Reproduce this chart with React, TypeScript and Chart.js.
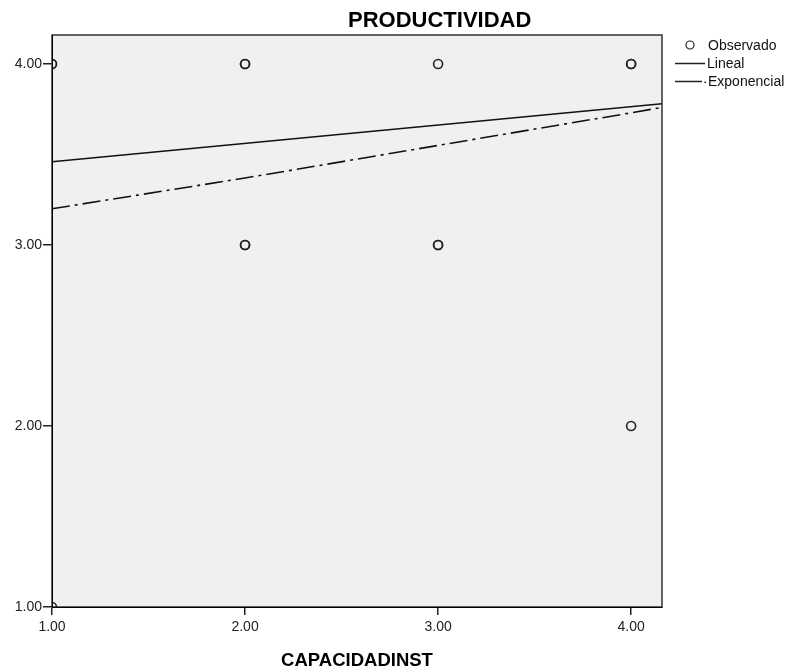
import React, { useEffect, useRef } from "react";
import { Chart, registerables } from "chart.js";

Chart.register(...registerables);

const chartTitle = "PRODUCTIVIDAD";
const xTitle = "CAPACIDADINST";
const xTicks = [1, 2, 3, 4];
const yTicks = [1, 2, 3, 4];
const xTickLabels = ["1.00", "2.00", "3.00", "4.00"];
const yTickLabels = ["1.00", "2.00", "3.00", "4.00"];
const axisMin = 1;
const axisMax = 4.16;

// Observed points (repeated entries = overlapping observations)
const obsX = [1, 1, 1, 2, 2, 2, 2, 3, 3, 3, 4, 4, 4];
const obsY = [4, 4, 1, 4, 4, 3, 3, 4, 3, 3, 4, 4, 2];

// Fitted lines
const linX = [1, 4.16];
const linY = [3.46, 3.78];
const expX = [1, 2, 3, 4, 4.16];
const expY = [3.2, 3.37, 3.55, 3.73, 3.76];

const legendLabels = ["Observado", "Lineal", "Exponencial"];

const FONT = "Arial, 'Liberation Sans', sans-serif";

export default function App() {
  const ref = useRef<HTMLCanvasElement | null>(null);

  useEffect(() => {
    if (!ref.current) return;
    const decor = {
      id: "decor",
      beforeDatasetsDraw(chart: any) {
        const { ctx, chartArea: a } = chart;
        ctx.save();
        ctx.fillStyle = "#f0f0f0";
        ctx.fillRect(a.left, a.top, a.right - a.left, a.bottom - a.top);
        ctx.restore();
      },
      afterDraw(chart: any) {
        const { ctx, chartArea: a } = chart;
        ctx.save();
        ctx.strokeStyle = "#333";
        ctx.lineWidth = 1.5;
        ctx.strokeRect(a.left, a.top, a.right - a.left, a.bottom - a.top);
        ctx.strokeStyle = "#000";
        ctx.lineWidth = 1;
        ctx.beginPath();
        ctx.moveTo(a.left + 0.5, a.top);
        ctx.lineTo(a.left + 0.5, a.bottom + 0.5);
        ctx.lineTo(a.right, a.bottom + 0.5);
        ctx.stroke();
        // titles
        ctx.fillStyle = "#000";
        ctx.font = `bold 22px ${FONT}`;
        ctx.textAlign = "left";
        ctx.textBaseline = "alphabetic";
        ctx.fillText(chartTitle, 348, 27);
        ctx.font = `bold 18.5px ${FONT}`;
        ctx.textAlign = "center";
        ctx.fillText(xTitle, (a.left + a.right) / 2, 666);
        // legend
        ctx.font = `14px ${FONT}`;
        ctx.textAlign = "left";
        ctx.textBaseline = "middle";
        ctx.fillStyle = "#111";
        ctx.strokeStyle = "#222";
        ctx.lineWidth = 1.2;
        ctx.beginPath();
        ctx.arc(690, 45, 4, 0, Math.PI * 2);
        ctx.stroke();
        ctx.fillText(legendLabels[0], 708, 46);
        ctx.lineWidth = 1.5;
        ctx.beginPath();
        ctx.moveTo(675, 63.5);
        ctx.lineTo(705, 63.5);
        ctx.stroke();
        ctx.fillText(legendLabels[1], 707, 64);
        ctx.beginPath();
        ctx.moveTo(675, 81.5);
        ctx.lineTo(702, 81.5);
        ctx.stroke();
        ctx.fillRect(704.5, 81.5, 1.5, 1.5);
        ctx.fillText(legendLabels[2], 708, 82);
        ctx.restore();
      },
    };

    const chart = new Chart(ref.current, {
      type: "scatter",
      data: {
        datasets: [
          {
            label: legendLabels[1],
            data: linX.map((x, i) => ({ x, y: linY[i] })),
            showLine: true,
            borderColor: "#111",
            borderWidth: 1.6,
            pointRadius: 0,
            clip: 0,
          } as any,
          {
            label: legendLabels[2],
            data: expX.map((x, i) => ({ x, y: expY[i] })),
            showLine: true,
            borderColor: "#111",
            borderWidth: 1.6,
            borderDash: [18, 5, 3, 5],
            pointRadius: 0,
            clip: 0,
          } as any,
          {
            label: legendLabels[0],
            data: obsX.map((x, i) => ({ x, y: obsY[i] })),
            showLine: false,
            pointRadius: 4.5,
            pointBorderWidth: 1.6,
            pointBorderColor: "#222",
            pointBackgroundColor: "rgba(0,0,0,0)",
            clip: 0,
          } as any,
        ],
      },
      options: {
        responsive: false,
        animation: false,
        layout: { padding: { top: 35, right: 127, left: 0, bottom: 0 } },
        plugins: {
          legend: { display: false },
          title: { display: false },
          tooltip: { enabled: false },
        },
        scales: {
          x: {
            type: "linear",
            min: axisMin,
            max: axisMax,
            afterBuildTicks: (s: any) => {
              s.ticks = xTicks.map((v) => ({ value: v }));
            },
            afterFit: (s: any) => {
              s.height = 64;
            },
            grid: {
              display: true,
              drawOnChartArea: false,
              drawTicks: true,
              tickLength: 8,
              color: "#222",
              lineWidth: 1.5,
            },
            border: { display: true, color: "#111", width: 1 },
            ticks: {
              padding: 4,
              color: "#222",
              font: { family: FONT, size: 14 },
              maxRotation: 0,
              callback: (v: any) => xTickLabels[xTicks.indexOf(Number(v))] ?? "",
            },
          },
          y: {
            type: "linear",
            min: axisMin,
            max: axisMax,
            afterBuildTicks: (s: any) => {
              s.ticks = yTicks.map((v) => ({ value: v }));
            },
            afterFit: (s: any) => {
              s.width = 52;
            },
            grid: {
              display: true,
              drawOnChartArea: false,
              drawTicks: true,
              tickLength: 9,
              color: "#222",
              lineWidth: 1.5,
            },
            border: { display: true, color: "#111", width: 1 },
            ticks: {
              padding: 1,
              color: "#222",
              font: { family: FONT, size: 14 },
              callback: (v: any) => yTickLabels[yTicks.indexOf(Number(v))] ?? "",
            },
          },
        },
      },
      plugins: [decor],
    });
    return () => chart.destroy();
  }, []);

  return (
    <div style={{ position: "absolute", left: 0, top: 0, width: 789, height: 671, background: "#fff" }}>
      <canvas ref={ref} width={789} height={671} style={{ display: "block" }} />
    </div>
  );
}
